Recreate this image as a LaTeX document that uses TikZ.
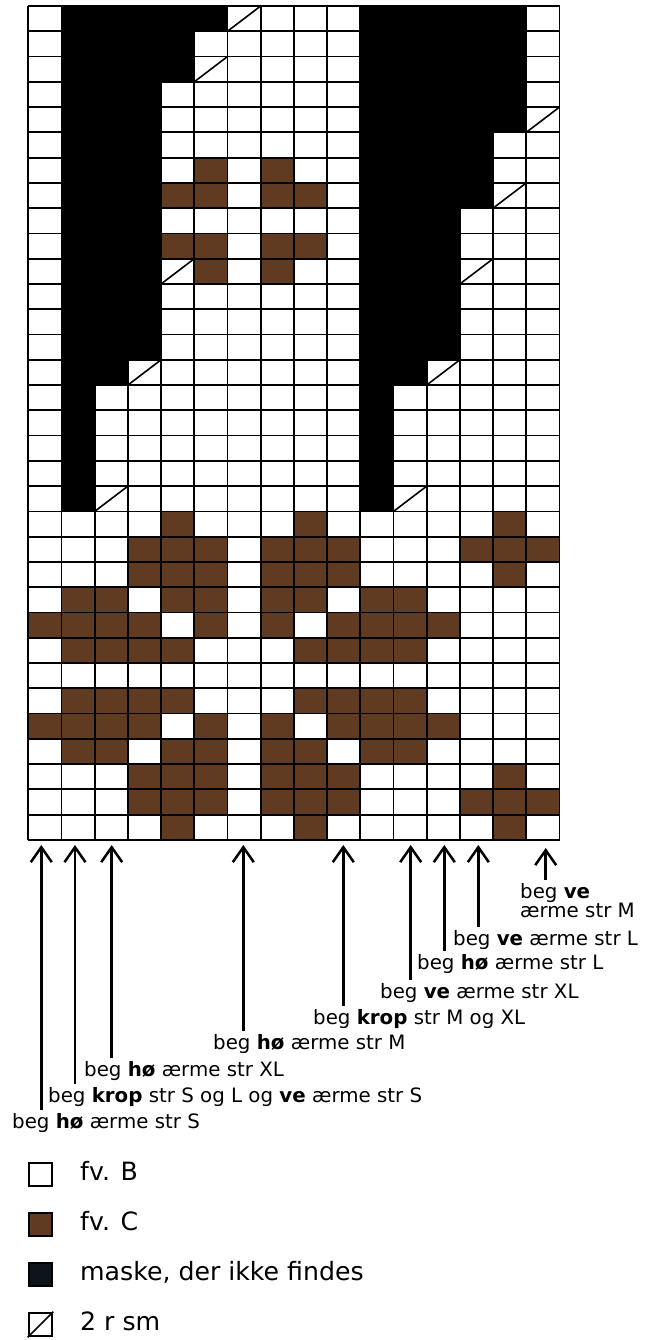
\documentclass[tikz,border=0pt]{standalone}
\usepackage{fontspec}
\setmainfont{DejaVu Sans}
\usetikzlibrary{arrows.meta}
\definecolor{fvC}{RGB}{96,59,34}
\definecolor{maske}{RGB}{13,20,26}
\begin{document}
\begin{tikzpicture}[x=1pt,y=-1pt,
  lab/.style={anchor=base west, inner sep=0pt, font=\fontsize{19.8}{22}\selectfont},
  legtext/.style={anchor=base west, inner sep=0pt, font=\fontsize{25.2}{28}\selectfont},
  arr/.style={line width=2.5pt, -{Straight Barb[length=15pt,width=21pt]}},
  gridline/.style={line width=1.8pt, draw=black},
  slashline/.style={line width=1.6pt, draw=black},
  legbox/.style={line width=2.2pt, draw=black, minimum size=23.5pt, inner sep=0pt}]
\useasboundingbox (0,0) rectangle (651,1340);
\fill[white] (0,0) rectangle (651,1340);
% ---------------- chart ----------------
\begin{scope}[shift={(28.3pt,-6pt)}, x=33.2pt, y=-25.27pt]
  % black: maske, der ikke findes
  \fill[black] (1,0) rectangle (6,1);
  \fill[black] (1,1) rectangle (5,3);
  \fill[black] (1,3) rectangle (4,14);
  \fill[black] (1,14) rectangle (3,15);
  \fill[black] (1,15) rectangle (2,20);
  \fill[black] (10,0) rectangle (15,5);
  \fill[black] (10,5) rectangle (14,8);
  \fill[black] (10,8) rectangle (13,14);
  \fill[black] (10,14) rectangle (12,15);
  \fill[black] (10,15) rectangle (11,20);
  % brown: fv. C
  \foreach \r/\cols in {7/{6,8}, 8/{5,6,8,9}, 10/{5,6,8,9}, 11/{6,8},
      21/{5,9,15}, 22/{4,5,6,8,9,10,14,15,16}, 23/{4,5,6,8,9,10,15},
      24/{2,3,5,6,8,9,11,12}, 25/{1,2,3,4,6,8,10,11,12,13}, 26/{2,3,4,5,9,10,11,12},
      28/{2,3,4,5,9,10,11,12}, 29/{1,2,3,4,6,8,10,11,12,13}, 30/{2,3,5,6,8,9,11,12},
      31/{4,5,6,8,9,10,15}, 32/{4,5,6,8,9,10,14,15,16}, 33/{5,9,15}}
  {
    \foreach \c in \cols { \fill[fvC] (\c-1,\r-1) rectangle (\c,\r); }
  }
  % grid
  \foreach \c in {0,...,16} { \draw[gridline] (\c,0) -- (\c,33); }
  \foreach \r in {0,...,33} { \draw[gridline] (0,\r) -- (16,\r); }
  % 2 r sm
  \foreach \c/\r in {7/1,6/3,5/11,4/15,3/20,16/5,15/8,14/11,13/15,12/20}
    { \draw[slashline] (\c-1,\r) -- (\c,\r-1); }
\end{scope}
% ---------------- arrow tips ----------------
\coordinate (t1) at (41.3,845);
\coordinate (t2) at (75,845);
\coordinate (t3) at (111.7,845);
\coordinate (t7) at (243.3,845);
\coordinate (t10) at (343.3,845);
\coordinate (t12) at (410.7,845);
\coordinate (t13) at (444.3,845);
\coordinate (t14) at (478.3,845);
\coordinate (t16) at (545.7,848);
% ---------------- labels ----------------
\node[lab] (L16a) at (520,898) {beg \textbf{ve}};
\node[lab] (L16b) at (520,917) {ærme str M};
\node[lab] (L14) at (453,945) {beg \textbf{ve} ærme str L};
\node[lab] (L13) at (417,969) {beg \textbf{hø} ærme str L};
\node[lab] (L12) at (380,998) {beg \textbf{ve} ærme str XL};
\node[lab] (L10) at (313,1024) {beg \textbf{krop} str M og XL};
\node[lab] (L7) at (213,1049) {beg \textbf{hø} ærme str M};
\node[lab] (L3) at (84,1076) {beg \textbf{hø} ærme str XL};
\node[lab] (L2) at (48,1102) {beg \textbf{krop} str S og L og \textbf{ve} ærme str S};
\node[lab] (L1) at (12,1128) {beg \textbf{hø} ærme str S};
% ---------------- arrows ----------------
\draw[arr] ([yshift=3pt]L16a.north -| t16) -- (t16);
\draw[arr] ([yshift=3pt]L14.north -| t14) -- (t14);
\draw[arr] ([yshift=3pt]L13.north -| t13) -- (t13);
\draw[arr] ([yshift=3pt]L12.north -| t12) -- (t12);
\draw[arr] ([yshift=3pt]L10.north -| t10) -- (t10);
\draw[arr] ([yshift=3pt]L7.north -| t7) -- (t7);
\draw[arr] ([yshift=3pt]L3.north -| t3) -- (t3);
\draw[arr] ([yshift=3pt]L2.north -| t2) -- (t2);
\draw[arr] ([yshift=3pt]L1.north -| t1) -- (t1);
% ---------------- legend ----------------
\node[legbox, fill=white] (b1) at (40.5,1174.5) {};
\node[legbox, fill=fvC] (b2) at (40.5,1224.5) {};
\node[legbox, fill=maske] (b3) at (40.5,1274.5) {};
\node[legbox, fill=white] (b4) at (40.5,1324.5) {};
\draw[slashline] (b4.south west) -- (b4.north east);
\node[legtext] (T1) at (80,1180) {fv. B};
\node[legtext] (T2) at (80,1230) {fv. C};
\node[legtext] (T3) at (80,1280) {maske, der ikke findes};
\node[legtext] (T4) at (80,1330) {2 r sm};
\end{tikzpicture}
\end{document}
